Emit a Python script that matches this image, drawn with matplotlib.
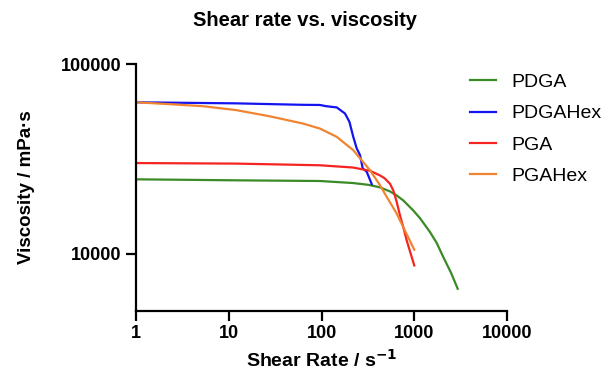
import numpy as np
import matplotlib.pyplot as plt

plt.rcParams['font.family'] = ['Liberation Sans', 'DejaVu Sans']

# PDGA
pdga_x = [1, 12, 96, 220, 320, 427, 550, 646, 762, 977, 1153, 1479, 1746, 2056, 2500, 2940]
pdga_y = [24700, 24400, 24200, 23600, 23100, 22400, 21300, 20300, 19100, 16900, 15400, 13000, 11400, 9600, 7900, 6530]

# PDGAHex
pdgahex_x = [1, 12, 62.7, 96, 112, 146, 179, 200, 220, 240, 260, 278, 307, 348]
pdgahex_y = [63000, 62200, 61100, 61000, 60100, 59200, 55000, 49700, 41400, 35900, 33200, 28200, 27100, 23300]

# PGA
pga_x = [1, 12, 96, 220, 333, 427, 480, 548, 596, 646, 700, 762, 829, 1000]
pga_y = [30100, 29900, 29300, 28500, 27400, 25900, 25000, 23400, 21500, 18800, 16000, 13800, 11750, 8670]

# PGAHex
pgahex_x = [1, 2.29, 5.24, 12, 27.4, 62.7, 96, 146, 220, 333, 427, 505, 646, 762, 1000]
pgahex_y = [63000, 61600, 60100, 57300, 53200, 48700, 45800, 41400, 35200, 27600, 23000, 19950, 16300, 13800, 10500]

names = ['PDGA', 'PDGAHex', 'PGA', 'PGAHex']
colors = ['#3A8A26', '#1414F0', '#F52420', '#F08430']

fig = plt.figure(figsize=(6.02, 3.80), dpi=100)
ax = fig.add_axes([136/602, 1 - 310.7/380, (507-136)/602, (310.7-64.3)/380])

series = [(pdga_x, pdga_y), (pdgahex_x, pdgahex_y), (pga_x, pga_y), (pgahex_x, pgahex_y)]
for (xs, ys), name, c in zip(series, names, colors):
    ax.plot(xs, ys, color=c, lw=1.6, label=name, solid_joinstyle='round')

ax.set_xscale('log')
ax.set_yscale('log')
ax.set_xlim(1, 10000)
ax.set_ylim(5000, 100000)
ax.set_xticks([1, 10, 100, 1000, 10000])
ax.set_xticklabels(['1', '10', '100', '1000', '10000'])
ax.set_yticks([10000, 100000])
ax.set_yticklabels(['10000', '100000'])
ax.minorticks_off()

for s in ['top', 'right']:
    ax.spines[s].set_visible(False)
for s in ['left', 'bottom']:
    ax.spines[s].set_linewidth(1.6)
ax.tick_params(width=1.6, length=7, labelsize=13, direction='out')
for lab in ax.get_xticklabels() + ax.get_yticklabels():
    lab.set_fontweight('bold')

ax.set_xlabel('Shear Rate / s$^{\\mathbf{-1}}$', fontsize=14, fontweight='bold', labelpad=4.5)
ax.set_ylabel('Viscosity / mPa·s', fontsize=13.5, fontweight='bold')
ax.yaxis.set_label_coords(-0.272, 0.5)
fig.text(0.507, 0.947, 'Shear rate vs. viscosity', ha='center', va='center',
         fontsize=14.5, fontweight='bold')

ax.legend(loc='upper left', bbox_to_anchor=(462/602, 1 - 65.8/380),
          bbox_transform=fig.transFigure, borderaxespad=0, borderpad=0.4,
          frameon=False, fontsize=14, handlelength=1.37, labelspacing=0.7,
          handletextpad=0.77)

fig.savefig('out.png', dpi=100)
